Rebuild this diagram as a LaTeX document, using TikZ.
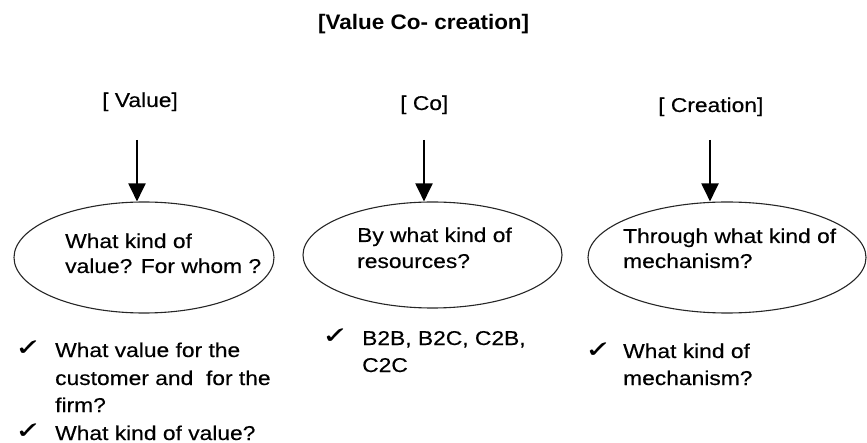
\documentclass[tikz,border=0pt]{standalone}
\usepackage{fontspec}
\setmainfont{Liberation Sans}[FakeStretch=1.14,FakeBold=0.4]
\newfontfamily\titlefont{Liberation Sans}[FakeStretch=1.07]
\newfontfamily\symfont{DejaVu Sans}[FakeBold=0.6]
\usetikzlibrary{arrows.meta,shapes.geometric}
\newcommand{\chk}{\scalebox{1.35}[1]{✓}}
\tikzset{
  txt/.style={inner sep=0, anchor=base west, font=\fontsize{20}{24}\selectfont},
  ttl/.style={inner sep=0, anchor=base west, font=\titlefont\bfseries\fontsize{21}{25}\selectfont},
  tick/.style={inner sep=0, anchor=base west, font=\symfont\fontsize{23}{26}\selectfont},
  bubble/.style={ellipse, draw=black!85, line width=1.1pt, inner sep=0},
  arr/.style={line width=2pt, -{Triangle[width=17pt,length=18pt]}}
}
\begin{document}
\begin{tikzpicture}[x=1pt,y=-1pt]
\useasboundingbox (0,0) rectangle (867,443);

% heading
\node[ttl] (title) at (318,30) {[Value Co- creation]};

% column labels
\node[txt] (lv) at (102,107) {[ Value]};
\node[txt] (lc) at (400,110) {[ Co]};
\node[txt] (lr) at (658,112) {[ Creation]};

% ellipses
\node[bubble, minimum width=260pt, minimum height=111pt] (ev) at (144,257.5) {};
\node[bubble, minimum width=259pt, minimum height=106pt] (ec) at (432.5,255) {};
\node[bubble, minimum width=278pt, minimum height=111pt] (er) at (727,257.5) {};

% arrows from labels into ellipses
\coordinate (av) at (137,140);
\coordinate (ac) at (424,140);
\coordinate (ar) at (710,140);
\draw[arr] (av) -- (av |- ev.north);
\draw[arr] (ac) -- (ac |- ec.north);
\draw[arr] (ar) -- (ar |- er.north);

% ellipse texts
\node[txt] (v1) at (65,248) {What kind of};
\node[txt] (v2) at (65,273) {value? For whom ?};
\node[txt] (c1) at (357,242) {By what kind of};
\node[txt] (c2) at (357,268) {resources?};
\node[txt] (r1) at (623,243) {Through what kind of};
\node[txt] (r2) at (623,268) {mechanism?};

% checklists
\node[tick] (k1) at (15,355) {\chk};
\node[txt] (p1) at (55,357) {What value for the};
\node[txt] (p2) at (55,385) {customer and\ \ for the};
\node[txt] (p3) at (55,412) {firm?};
\node[tick] (k2) at (15,438) {\chk};
\node[txt] (p4) at (55,440) {What kind of value?};

\node[tick] (k3) at (322,343) {\chk};
\node[txt] (q1) at (362,345) {B2B, B2C, C2B,};
\node[txt] (q2) at (362,372) {C2C};

\node[tick] (k4) at (585,357) {\chk};
\node[txt] (s1) at (623,358) {What kind of};
\node[txt] (s2) at (623,385) {mechanism?};
\end{tikzpicture}
\end{document}
